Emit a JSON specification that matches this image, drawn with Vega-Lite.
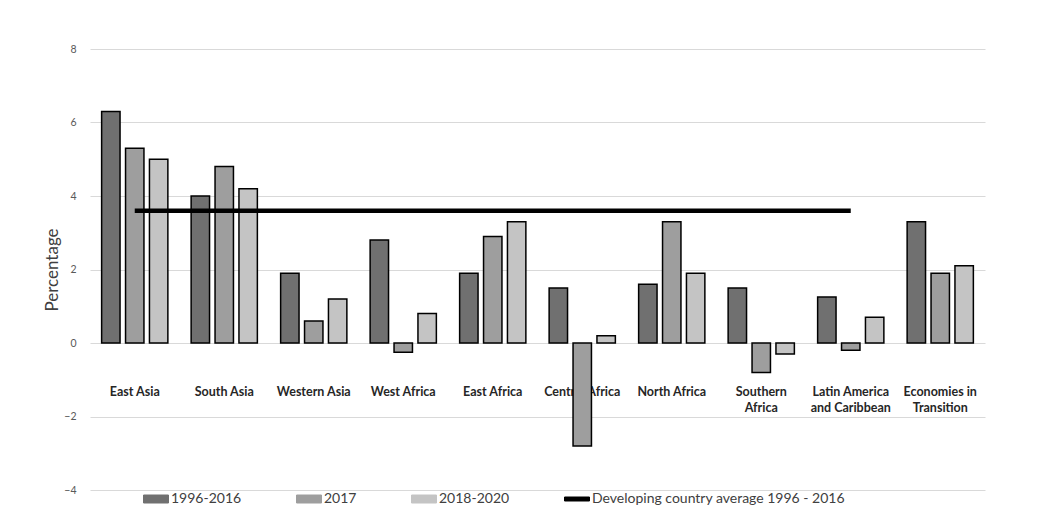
{
  "$schema": "https://vega.github.io/schema/vega-lite/v6.json",
  "width": 895,
  "height": 441,
  "autosize": "none",
  "padding": {"left": 90, "top": 49, "right": 62, "bottom": 32},
  "background": "white",
  "datasets": {
    "bars": [
      {"region": "East Asia", "series": "1996-2016", "value": 6.3},
      {"region": "East Asia", "series": "2017", "value": 5.3},
      {"region": "East Asia", "series": "2018-2020", "value": 5.0},
      {"region": "South Asia", "series": "1996-2016", "value": 4.0},
      {"region": "South Asia", "series": "2017", "value": 4.8},
      {"region": "South Asia", "series": "2018-2020", "value": 4.2},
      {"region": "Western Asia", "series": "1996-2016", "value": 1.9},
      {"region": "Western Asia", "series": "2017", "value": 0.6},
      {"region": "Western Asia", "series": "2018-2020", "value": 1.2},
      {"region": "West Africa", "series": "1996-2016", "value": 2.8},
      {"region": "West Africa", "series": "2017", "value": -0.25},
      {"region": "West Africa", "series": "2018-2020", "value": 0.8},
      {"region": "East Africa", "series": "1996-2016", "value": 1.9},
      {"region": "East Africa", "series": "2017", "value": 2.9},
      {"region": "East Africa", "series": "2018-2020", "value": 3.3},
      {"region": "Central Africa", "series": "1996-2016", "value": 1.5},
      {"region": "Central Africa", "series": "2017", "value": -2.8},
      {"region": "Central Africa", "series": "2018-2020", "value": 0.2},
      {"region": "North Africa", "series": "1996-2016", "value": 1.6},
      {"region": "North Africa", "series": "2017", "value": 3.3},
      {"region": "North Africa", "series": "2018-2020", "value": 1.9},
      {"region": "Southern Africa", "series": "1996-2016", "value": 1.5},
      {"region": "Southern Africa", "series": "2017", "value": -0.8},
      {"region": "Southern Africa", "series": "2018-2020", "value": -0.3},
      {"region": "Latin America and Caribbean", "series": "1996-2016", "value": 1.25},
      {"region": "Latin America and Caribbean", "series": "2017", "value": -0.2},
      {"region": "Latin America and Caribbean", "series": "2018-2020", "value": 0.7},
      {"region": "Economies in Transition", "series": "1996-2016", "value": 3.3},
      {"region": "Economies in Transition", "series": "2017", "value": 1.9},
      {"region": "Economies in Transition", "series": "2018-2020", "value": 2.1}
    ],
    "average": [
      {"region": "East Asia", "series": "Developing country average 1996 - 2016", "value": 3.6},
      {"region": "South Asia", "series": "Developing country average 1996 - 2016", "value": 3.6},
      {"region": "Western Asia", "series": "Developing country average 1996 - 2016", "value": 3.6},
      {"region": "West Africa", "series": "Developing country average 1996 - 2016", "value": 3.6},
      {"region": "East Africa", "series": "Developing country average 1996 - 2016", "value": 3.6},
      {"region": "Central Africa", "series": "Developing country average 1996 - 2016", "value": 3.6},
      {"region": "North Africa", "series": "Developing country average 1996 - 2016", "value": 3.6},
      {"region": "Southern Africa", "series": "Developing country average 1996 - 2016", "value": 3.6},
      {"region": "Latin America and Caribbean", "series": "Developing country average 1996 - 2016", "value": 3.6}
    ]
  },
  "encoding": {
    "x": {
      "field": "region",
      "type": "nominal",
      "title": null,
      "scale": {
        "domain": ["East Asia", "South Asia", "Western Asia", "West Africa", "East Africa", "Central Africa", "North Africa", "Southern Africa", "Latin America and Caribbean", "Economies in Transition"],
        "paddingInner": 0.26,
        "paddingOuter": 0.13
      },
      "axis": {
        "orient": "bottom",
        "offset": -105,
        "domain": false,
        "ticks": false,
        "labelPadding": 0,
        "labelAngle": 0,
        "labelFont": "Lato",
        "labelFontWeight": "bold",
        "labelFontSize": 12.5,
        "labelColor": "#262626",
        "labelLineHeight": 16.5,
        "labelExpr": "datum.label == 'Southern Africa' ? ['Southern', 'Africa'] : datum.label == 'Latin America and Caribbean' ? ['Latin America', 'and Caribbean'] : datum.label == 'Economies in Transition' ? ['Economies in', 'Transition'] : datum.label"
      }
    },
    "y": {
      "field": "value",
      "type": "quantitative",
      "title": "Percentage",
      "scale": {"domain": [-4, 8], "nice": false},
      "axis": {
        "values": [-4, -2, 0, 2, 4, 6, 8],
        "domain": false,
        "ticks": false,
        "labelPadding": 14,
        "labelFont": "Lato",
        "labelFontSize": 10.5,
        "labelColor": "#595959",
        "gridColor": "#d9d9d9",
        "gridWidth": 1,
        "titleFont": "Lato",
        "titleFontSize": 17,
        "titleFontWeight": "normal",
        "titleColor": "#404040",
        "titlePadding": 2
      }
    },
    "color": {
      "field": "series",
      "type": "nominal",
      "scale": {
        "domain": ["1996-2016", "2017", "2018-2020", "Developing country average 1996 - 2016"],
        "range": ["#707070", "#9e9e9e", "#c4c4c4", "#000000"]
      },
      "legend": {
        "orient": "none",
        "legendX": 53,
        "legendY": 437,
        "direction": "horizontal",
        "columns": 4,
        "title": null,
        "symbolSize": 625,
        "symbolStrokeColor": "#000000",
        "symbolStrokeWidth": 1,
        "columnPadding": 52,
        "labelOffset": 2,
        "labelFont": "Lato",
        "labelFontSize": 14,
        "labelColor": "#404040",
        "labelLimit": 400,
        "padding": 0,
        "encode": {
          "symbols": {
            "update": {
              "shape": [
                {"test": "datum.label == 'Developing country average 1996 - 2016'", "value": "M-1,-0.16H1V0.16H-1Z"},
                {"value": "M-1,-0.32H1V0.32H-1Z"}
              ],
              "fill": {"scale": "color", "field": "value"},
              "stroke": {"value": "#000000"},
              "strokeWidth": {"value": 1},
              "strokeOpacity": {"value": 1},
              "opacity": {"value": 1}
            }
          }
        }
      }
    }
  },
  "layer": [
    {
      "data": {"name": "bars"},
      "mark": {"type": "bar", "stroke": "#000000", "strokeWidth": 1.5},
      "encoding": {
        "xOffset": {
          "field": "series",
          "type": "nominal",
          "scale": {"domain": ["1996-2016", "2017", "2018-2020"], "paddingInner": 0.23, "paddingOuter": 0}
        }
      }
    },
    {
      "data": {"name": "average"},
      "mark": {"type": "line", "strokeWidth": 4.5},
      "encoding": {}
    }
  ],
  "config": {
    "view": {"stroke": null}
  }
}
